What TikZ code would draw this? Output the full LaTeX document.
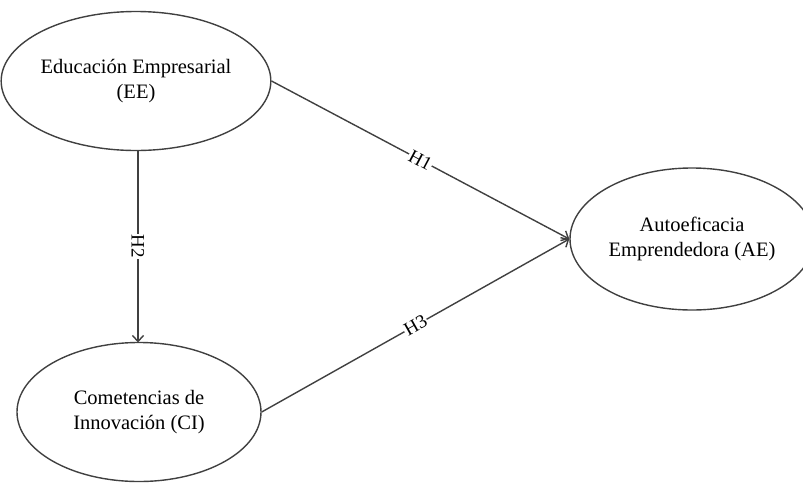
\documentclass[tikz,border=0pt]{standalone}
\usepackage{fontspec}
\setmainfont{Liberation Serif}
\usetikzlibrary{shapes.geometric,arrows.meta}
\definecolor{linegray}{HTML}{404040}
\tikzset{
  construct/.style={ellipse, draw=linegray, line width=1.4pt, minimum width=244pt, minimum height=139pt,
    inner sep=0pt, align=center, font=\fontsize{20.5}{25}\selectfont},
  path/.style={draw=linegray, line width=1.4pt, -{Straight Barb[length=6pt,width=11pt,line width=1.4pt]}},
  hyp/.style={fill=white, inner sep=1pt, sloped, font=\fontsize{19}{22}\selectfont}
}
\begin{document}
\begin{tikzpicture}[x=1pt,y=-1pt]
\useasboundingbox (0,0) rectangle (803,483);
\begin{scope}
\clip (0,0) rectangle (803,483);
\node[construct] (EE) at (136,81) {Educación Empresarial\\(EE)};
\node[construct] (CI) at (139,412) {Cometencias de\\Innovación (CI)};
\node[construct, minimum height=142pt] (AE) at (692,239) {Autoeficacia\\Emprendedora (AE)};
\end{scope}
\coordinate (EEb) at (138,150.5);
\coordinate (CIt) at (138,342.5);
\draw[path] (EE.east) -- node[hyp] {H1} (AE.west);
\draw[path] (EEb) -- node[hyp] {H2} (CIt);
\draw[path] (CI.east) -- node[hyp] {H3} (AE.west);
\end{tikzpicture}
\end{document}
